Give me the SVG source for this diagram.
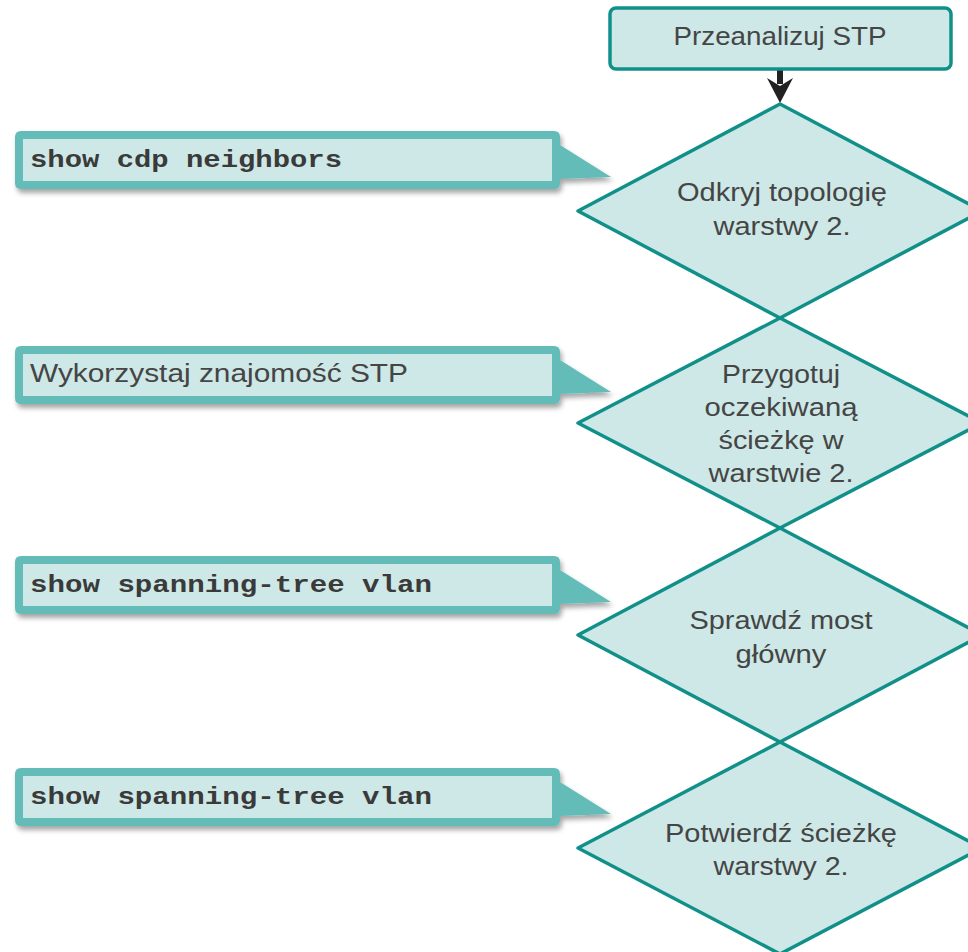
<svg xmlns="http://www.w3.org/2000/svg" width="968" height="952" viewBox="0 0 968 952">
<style>
.bg{fill:#ffffff}
.box{fill:#cde8e6;stroke:#11908a;stroke-width:3.5;stroke-linejoin:round}
.dia{fill:#cde8e6;stroke:#11908a;stroke-width:3.5;stroke-linejoin:round}
.co-out{fill:#64bcb8}
.co-in{fill:#cde8e6}
.t{font-family:"Liberation Sans",Arial,sans-serif;font-size:25px;fill:#454545}
.tc{font-family:"Liberation Sans",Arial,sans-serif;font-size:25px;fill:#454545;text-anchor:middle}
.code{font-family:"Liberation Mono","Courier New",monospace;font-size:23px;font-weight:bold;fill:#3a3a3a}
</style>
<defs>
<filter id="sh" x="-10%" y="-30%" width="120%" height="170%">
<feDropShadow dx="2" dy="4" stdDeviation="2.5" flood-color="#000" flood-opacity="0.35"/>
</filter>
</defs>
<rect class="bg" x="0" y="0" width="968" height="952"/>

<g id="connectors">
<rect x="777" y="70" width="6" height="14" fill="#222"/>
<path d="M767,78 L780,86 L793,78 L780,103 Z" fill="#222"/>
</g>

<g id="start">
<rect class="box" x="610" y="8" width="341" height="61" rx="6"/>
<text class="tc" x="780" y="45" textLength="213" lengthAdjust="spacingAndGlyphs">Przeanalizuj STP</text>
</g>

<g id="d1">
<path class="dia" d="M780,104 L982,211 L780,318 L578,211 Z"/>
<text class="tc" x="782" y="201" textLength="210" lengthAdjust="spacingAndGlyphs">Odkryj topologię</text>
<text class="tc" x="782" y="235" textLength="137" lengthAdjust="spacingAndGlyphs">warstwy 2.</text>
</g>

<g id="d2">
<path class="dia" d="M780,318 L982,423 L780,528 L578,423 Z"/>
<text class="tc" x="781" y="383" textLength="118" lengthAdjust="spacingAndGlyphs">Przygotuj</text>
<text class="tc" x="781" y="416" textLength="153" lengthAdjust="spacingAndGlyphs">oczekiwaną</text>
<text class="tc" x="781" y="449" textLength="125" lengthAdjust="spacingAndGlyphs">ścieżkę w</text>
<text class="tc" x="781" y="482" textLength="145" lengthAdjust="spacingAndGlyphs">warstwie 2.</text>
</g>

<g id="d3">
<path class="dia" d="M780,528 L982,635 L780,742 L578,635 Z"/>
<text class="tc" x="781" y="629" textLength="183" lengthAdjust="spacingAndGlyphs">Sprawdź most</text>
<text class="tc" x="781" y="663" textLength="91" lengthAdjust="spacingAndGlyphs">główny</text>
</g>

<g id="d4">
<path class="dia" d="M780,742 L982,848 L780,954 L578,848 Z"/>
<text class="tc" x="781" y="842" textLength="232" lengthAdjust="spacingAndGlyphs">Potwierdź ścieżkę</text>
<text class="tc" x="781" y="875" textLength="135" lengthAdjust="spacingAndGlyphs">warstwy 2.</text>
</g>

<g id="c1">
<path class="co-out" filter="url(#sh)" d="M21,131 H554 Q560,131 560,137 V145 L611,177 L560,179 V183 Q560,189 554,189 H21 Q15,189 15,183 V137 Q15,131 21,131 Z"/>
<rect class="co-in" x="23" y="139" width="529" height="42"/>
<text class="code" x="30" y="167" textLength="312" lengthAdjust="spacingAndGlyphs">show cdp neighbors</text>
</g>

<g id="c2">
<path class="co-out" filter="url(#sh)" d="M21,346 H554 Q560,346 560,352 V360 L611,392 L560,394 V398 Q560,404 554,404 H21 Q15,404 15,398 V352 Q15,346 21,346 Z"/>
<rect class="co-in" x="23" y="354" width="529" height="42"/>
<text class="t" x="30" y="382" textLength="378" lengthAdjust="spacingAndGlyphs">Wykorzystaj znajomość STP</text>
</g>

<g id="c3">
<path class="co-out" filter="url(#sh)" d="M21,556 H554 Q560,556 560,562 V570 L611,602 L560,604 V608 Q560,614 554,614 H21 Q15,614 15,608 V562 Q15,556 21,556 Z"/>
<rect class="co-in" x="23" y="564" width="529" height="42"/>
<text class="code" x="30" y="592" textLength="402" lengthAdjust="spacingAndGlyphs">show spanning-tree vlan</text>
</g>

<g id="c4">
<path class="co-out" filter="url(#sh)" d="M21,768 H554 Q560,768 560,774 V782 L611,814 L560,816 V820 Q560,826 554,826 H21 Q15,826 15,820 V774 Q15,768 21,768 Z"/>
<rect class="co-in" x="23" y="776" width="529" height="42"/>
<text class="code" x="30" y="804" textLength="402" lengthAdjust="spacingAndGlyphs">show spanning-tree vlan</text>
</g>
</svg>
